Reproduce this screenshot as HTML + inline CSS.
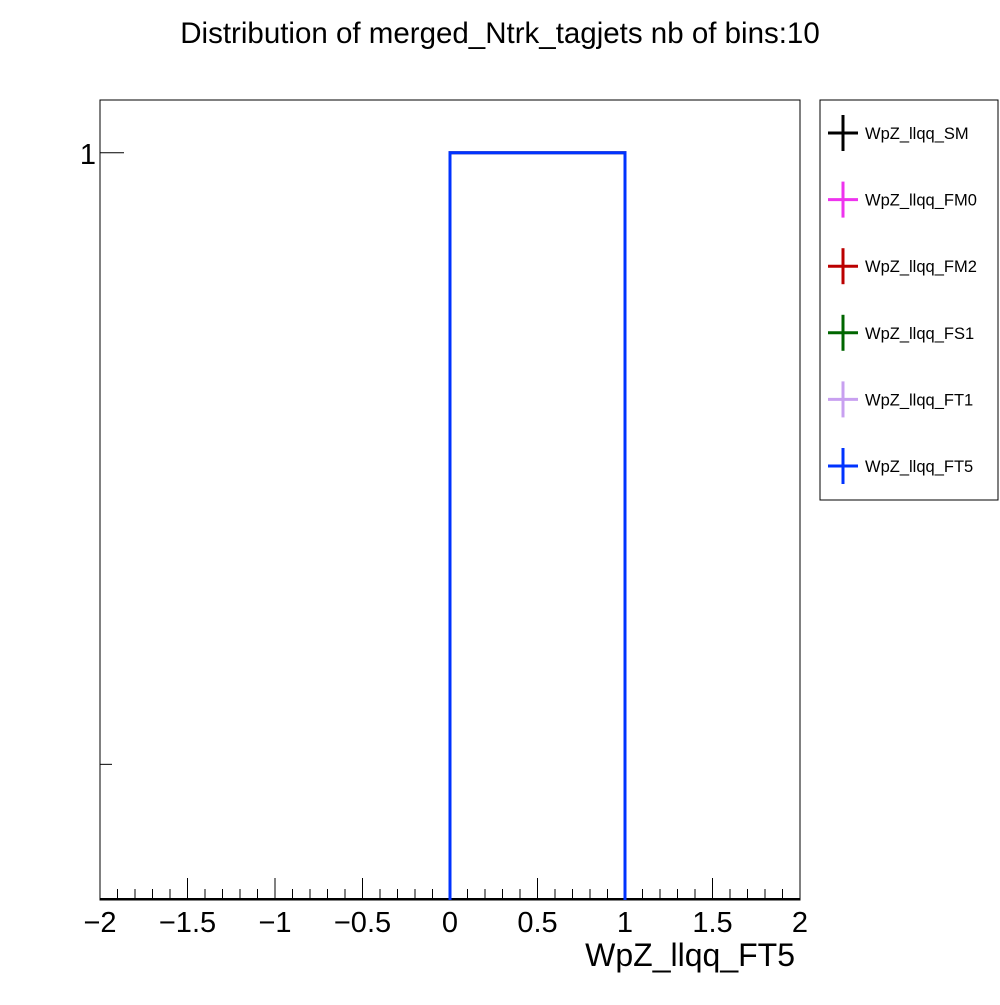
<!DOCTYPE html>
<html><head><meta charset="utf-8"><style>
body{margin:0;background:#fff}
svg{font-family:"Liberation Sans",sans-serif}
</style></head><body>
<svg width="1000" height="1000" viewBox="0 0 1000 1000">
<text x="500" y="43" font-size="29.5" text-anchor="middle">Distribution of merged_Ntrk_tagjets nb of bins:10</text>
<rect x="100" y="100" width="700" height="800" fill="none" stroke="#000" stroke-width="1"/>
<g id="xaxis"></g>
<g id="yaxis"></g>
<g id="series"></g>
<text x="795" y="966" font-size="32" text-anchor="end">WpZ_llqq_FT5</text>
<g id="legend">
<rect x="820" y="100" width="178" height="400" fill="#fff" stroke="#000"/>
</g>
</svg>
<script>
const binEdges=[0,1];
const binValues=[1];
const xTicks=[-2,-1.5,-1,-0.5,0,0.5,1,1.5,2];
const xTickLabels=["−2","−1.5","−1","−0.5","0","0.5","1","1.5","2"];
const seriesNames=["WpZ_llqq_SM","WpZ_llqq_FM0","WpZ_llqq_FM2","WpZ_llqq_FS1","WpZ_llqq_FT1","WpZ_llqq_FT5"];
const seriesColors=["#000000","#ee33ee","#bb0000","#006600","#c8a0f0","#0033ff"];
const X0=100,X1=800,Y0=900,Y1=100,XMIN=-2,XMAX=2;
const LMIN=Math.log10(0.06),LMAX=Math.log10(1.22);
const sx=v=>X0+(v-XMIN)/(XMAX-XMIN)*(X1-X0);
const sy=v=>Y0-(Math.log10(v)-LMIN)/(LMAX-LMIN)*(Y0-Y1);
const NS="http://www.w3.org/2000/svg";
function mk(t,a,p){const e=document.createElementNS(NS,t);for(const k in a)e.setAttribute(k,a[k]);p.appendChild(e);return e;}
const xa=document.getElementById('xaxis');
for(let i=0;i<=40;i++){const v=XMIN+i*0.1;const major=i%5===0;
 const l=mk('line',{x1:sx(v),x2:sx(v),y1:Y0,y2:Y0-(major?22:11),stroke:'#000'},xa);
 
 }
xTicks.forEach((v,i)=>{const t=mk('text',{x:sx(v),y:932,'font-size':29,'text-anchor':'middle'},xa);t.textContent=xTickLabels[i];
 
 });
const ya=document.getElementById('yaxis');
let l1=mk('line',{x1:X0,x2:X0+24,y1:sy(1),y2:sy(1),stroke:'#000'},ya);


let l2=mk('line',{x1:X0,x2:X0+12,y1:sy(0.1),y2:sy(0.1),stroke:'#000'},ya);


let yt=mk('text',{x:96,y:sy(1)+11,'font-size':29,'text-anchor':'end'},ya);yt.textContent="1";


const sg=document.getElementById('series');
let base=mk('line',{x1:X0,x2:X1,y1:Y0-1,y2:Y0-1,stroke:'#000','stroke-width':2},sg);


seriesColors.forEach((c,s)=>{
 let d='M'+sx(binEdges[0])+','+Y0;
 binValues.forEach((v,i)=>{d+=' L'+sx(binEdges[i])+','+sy(v)+' L'+sx(binEdges[i+1])+','+sy(v);});
 d+=' L'+sx(binEdges[binEdges.length-1])+','+Y0;
 const p=mk('path',{d:d,fill:'none',stroke:c,'stroke-width':3},sg);
 
 
});
const lg=document.getElementById('legend');
seriesNames.forEach((n,i)=>{const y=133+i*66.6;const g=mk('g',{},lg);
 
 
 mk('line',{x1:828,x2:858,y1:y,y2:y,stroke:seriesColors[i],'stroke-width':3},g);
 mk('line',{x1:843,x2:843,y1:y-18,y2:y+18,stroke:seriesColors[i],'stroke-width':3},g);
 const t=mk('text',{x:865,y:y+6,'font-size':16.5},g);t.textContent=n;});
</script>
</body></html>
